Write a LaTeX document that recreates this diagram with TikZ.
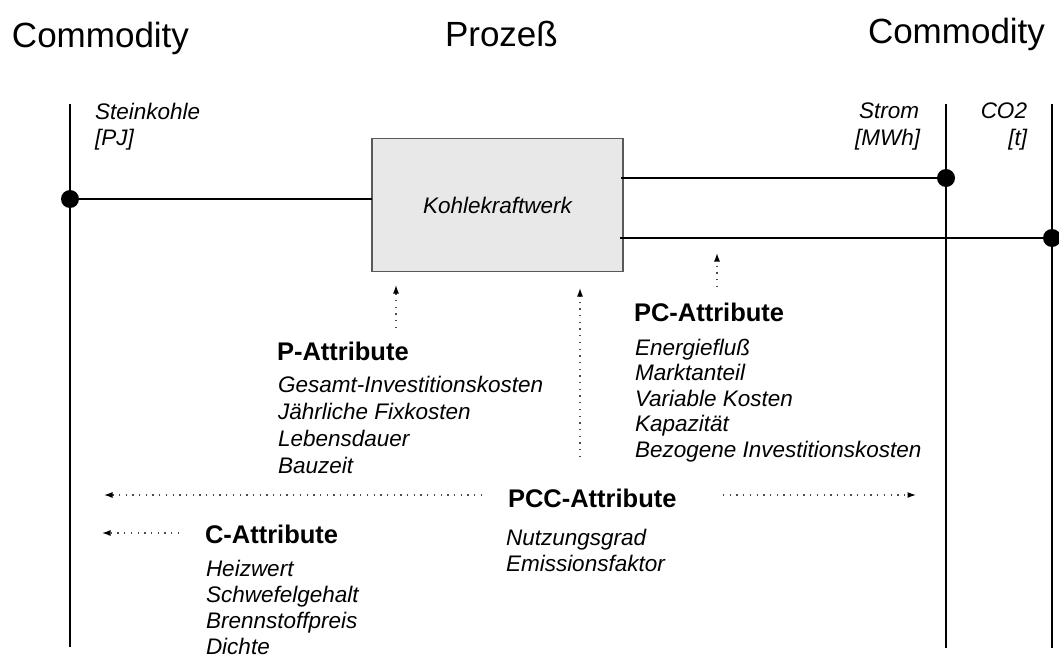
\documentclass[tikz,border=0pt]{standalone}
\usepackage{fontspec}
\setmainfont{Liberation Sans}
\usetikzlibrary{arrows.meta}
\begin{document}
\begin{tikzpicture}[x=1pt,y=-1pt,
  every node/.style={inner sep=0pt, outer sep=0pt},
  title/.style={font=\fontsize{35}{40}\selectfont, anchor=base west},
  head/.style={font=\fontsize{25.5}{30}\selectfont\bfseries, anchor=base west},
  itl/.style={font=\fontsize{22.5}{26}\selectfont\itshape, anchor=base west},
  itr/.style={font=\fontsize{22.5}{26}\selectfont\itshape, anchor=base east},
  rail/.style={line width=1.8pt},
  flow/.style={line width=1.8pt},
  dot/.style={circle, fill=black, minimum size=18pt},
  hint/.style={line width=1.3pt, black!70, dash pattern=on 1.3pt off 5.4pt,
    -{Latex[length=8.5pt,width=6pt,black]}},
]
\useasboundingbox (0,0) rectangle (1059,658);

% column headings
\node[title] (hc1) at (12,48) {Commodity};
\node[title] (hp)  at (445,47) {Prozeß};
\node[title] (hc2) at (868,44) {Commodity};

% commodity rails
\coordinate (sktop) at (70,104);   \coordinate (skbot) at (70,647);
\coordinate (sttop) at (946,104);  \coordinate (stbot) at (946,648);
\coordinate (cotop) at (1052,104); \coordinate (cobot) at (1052,648);
\draw[rail] (sktop) -- (skbot);
\draw[rail] (sttop) -- (stbot);
\draw[rail] (cotop) -- (cobot);

% commodity names and units
\node[itl] (sk1) at (95,120) {Steinkohle};
\node[itl] (sk2) at (95,145) {[PJ]};
\node[itr] (st1) at (919,119) {Strom};
\node[itr] (st2) at (920,145) {[MWh]};
\node[itr] (co1) at (1027,119) {CO2};
\node[itr] (co2) at (1027,145) {[t]};

% process
\node[draw=black!65, line width=1.2pt, fill=black!9,
      minimum width=251pt, minimum height=133pt,
      font=\fontsize{22.5}{26}\selectfont\itshape] (kw) at (497.5,205) {Kohlekraftwerk};

% flows
\node[dot] (dsk) at (70,199) {};
\node[dot] (dst) at (946,178) {};
\node[dot] (dco) at (1052,238) {};
\draw[flow] (dsk.center) -- (dsk.center -| kw.west);
\draw[flow] ([xshift=-2pt]kw.east |- dst.center) -- (dst.center);
\draw[flow] ([xshift=-3pt]kw.east |- dco.center) -- (dco.center);

% P attributes
\node[head] (ph) at (277,360) {P-Attribute};
\foreach \t [count=\i] in {Gesamt-Investitionskosten, Jährliche Fixkosten, Lebensdauer, Bauzeit}
  \node[itl] (pl\i) at (278,{392+27*(\i-1)}) {\t};
\coordinate (pa0) at (396,328);
\coordinate (pa1) at (396,285);
\draw[hint] (pa0) -- (pa1);

% PC attributes
\node[head] (pch) at (634,321) {PC-Attribute};
\foreach \t [count=\i] in {Energiefluß, Marktanteil, Variable Kosten, Kapazität, Bezogene Investitionskosten}
  \node[itl] (pcl\i) at (635,{355+25.5*(\i-1)}) {\t};
\coordinate (pca0) at (717,287);
\coordinate (pca1) at (717,253);
\draw[hint] (pca0) -- (pca1);

% PCC attributes
\node[head] (pcch) at (508,507) {PCC-Attribute};
\node[itl] (pccl1) at (506,545) {Nutzungsgrad};
\node[itl] (pccl2) at (506,571) {Emissionsfaktor};
\coordinate (pcca0) at (580,457);
\coordinate (pcca1) at (580,288);
\draw[hint] (pcca0) -- (pcca1);
\coordinate (pccl0) at (482,495);
\coordinate (pccl1e) at (104,495);
\draw[hint] (pccl0) -- (pccl1e);
\coordinate (pccr0) at (723,495);
\coordinate (pccr1) at (916,495);
\draw[hint] (pccr0) -- (pccr1);

% C attributes
\node[head] (ch) at (205,543) {C-Attribute};
\foreach \t [count=\i] in {Heizwert, Schwefelgehalt, Brennstoffpreis, Dichte}
  \node[itl] (cl\i) at (206,{576+26*(\i-1)}) {\t};
\coordinate (ca0) at (179,533);
\coordinate (ca1) at (102,533);
\draw[hint] (ca0) -- (ca1);
\end{tikzpicture}
\end{document}
